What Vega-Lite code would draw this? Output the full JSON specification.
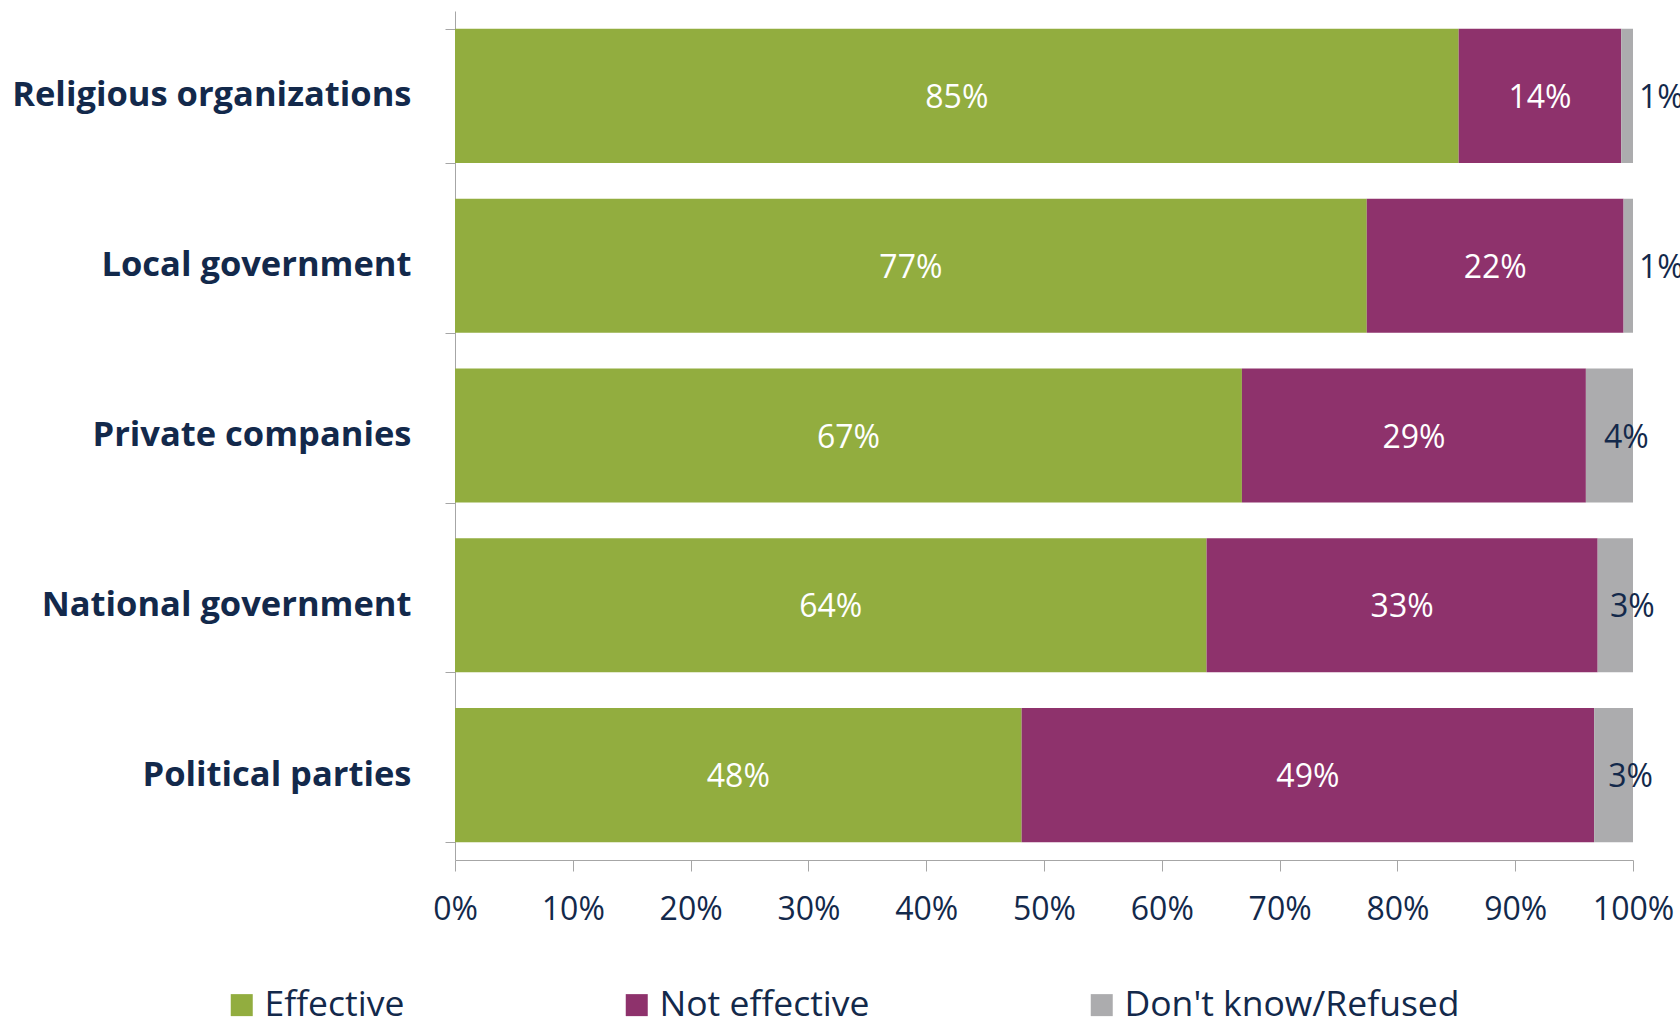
{
  "$schema": "https://vega.github.io/schema/vega-lite/v6.json",
  "width": 1178,
  "height": 849,
  "autosize": "none",
  "padding": {"left": 455, "top": 11, "right": 47, "bottom": 159},
  "background": "white",
  "config": {"view": {"stroke": null}, "font": "Open Sans"},
  "data": {"values": [
    {"org": "Religious organizations", "response": "Effective", "share": 0.852},
    {"org": "Religious organizations", "response": "Not effective", "share": 0.138},
    {"org": "Religious organizations", "response": "Don't know/Refused", "share": 0.010},
    {"org": "Local government", "response": "Effective", "share": 0.774},
    {"org": "Local government", "response": "Not effective", "share": 0.218},
    {"org": "Local government", "response": "Don't know/Refused", "share": 0.008},
    {"org": "Private companies", "response": "Effective", "share": 0.668},
    {"org": "Private companies", "response": "Not effective", "share": 0.292},
    {"org": "Private companies", "response": "Don't know/Refused", "share": 0.040},
    {"org": "National government", "response": "Effective", "share": 0.638},
    {"org": "National government", "response": "Not effective", "share": 0.332},
    {"org": "National government", "response": "Don't know/Refused", "share": 0.030},
    {"org": "Political parties", "response": "Effective", "share": 0.481},
    {"org": "Political parties", "response": "Not effective", "share": 0.486},
    {"org": "Political parties", "response": "Don't know/Refused", "share": 0.033}
  ]},
  "transform": [
    {"calculate": "indexof(['Effective','Not effective',\"Don't know/Refused\"], datum.response)", "as": "rank"},
    {"stack": "share", "groupby": ["org"], "sort": [{"field": "rank", "order": "ascending"}], "as": ["x0", "x1"]},
    {"calculate": "(datum.x0 + datum.x1) / 2", "as": "xmid"}
  ],
  "encoding": {
    "y": {
      "field": "org", "type": "nominal",
      "sort": ["Religious organizations", "Local government", "Private companies", "National government", "Political parties"],
      "scale": {"paddingInner": 0.21, "paddingOuter": 0.105},
      "axis": {
        "title": null, "tickBand": "extent", "domainColor": "#A6A6A6", "tickColor": "#A6A6A6",
        "tickSize": 10, "labelFont": "Open Sans", "labelFontWeight": "bold", "labelFontSize": 34.5,
        "labelColor": "#13294B", "labelPadding": 34, "labelLimit": 500
      }
    }
  },
  "layer": [
    {
      "mark": {"type": "bar"},
      "encoding": {
        "x": {
          "field": "x0", "type": "quantitative",
          "scale": {"domain": [0, 1], "nice": false},
          "axis": {
            "title": null, "format": ".0%", "values": [0, 0.1, 0.2, 0.3, 0.4, 0.5, 0.6, 0.7, 0.8, 0.9, 1],
            "grid": false, "domainColor": "#A6A6A6", "tickColor": "#A6A6A6", "tickSize": 11,
            "labelFontSize": 32, "labelColor": "#13294B", "labelPadding": 23, "labelFlush": false
          }
        },
        "x2": {"field": "x1"},
        "color": {
          "field": "response", "type": "nominal",
          "scale": {"domain": ["Effective", "Not effective", "Don't know/Refused"], "range": ["#92AD3F", "#8E326C", "#ACACAE"]},
          "legend": {
            "title": null, "orient": "none", "direction": "horizontal", "legendX": -231, "legendY": 976,
            "symbolType": "square", "symbolSize": 484, "symbolStrokeWidth": 0, "symbolOpacity": 1,
            "labelFontSize": 35.5, "labelColor": "#13294B", "labelOffset": 5, "columnPadding": 214, "labelLimit": 600
          }
        }
      }
    },
    {
      "transform": [{"filter": "datum.response !== \"Don't know/Refused\""}],
      "mark": {"type": "text", "color": "white", "fontSize": 32, "baseline": "middle", "align": "center", "dy": 2},
      "encoding": {
        "x": {"field": "xmid", "type": "quantitative"},
        "text": {"field": "share", "type": "quantitative", "format": ".0%"}
      }
    },
    {
      "transform": [{"filter": "datum.response === \"Don't know/Refused\" && datum.share >= 0.02"}],
      "mark": {"type": "text", "color": "#13294B", "fontSize": 32, "baseline": "middle", "align": "center", "dx": 17, "dy": 2},
      "encoding": {
        "x": {"field": "xmid", "type": "quantitative"},
        "text": {"field": "share", "type": "quantitative", "format": ".0%"}
      }
    },
    {
      "transform": [{"filter": "datum.response === \"Don't know/Refused\" && datum.share < 0.02"}],
      "mark": {"type": "text", "color": "#13294B", "fontSize": 32, "baseline": "middle", "align": "left", "dx": 6, "dy": 2},
      "encoding": {
        "x": {"field": "x1", "type": "quantitative"},
        "text": {"field": "share", "type": "quantitative", "format": ".0%"}
      }
    }
  ]
}
